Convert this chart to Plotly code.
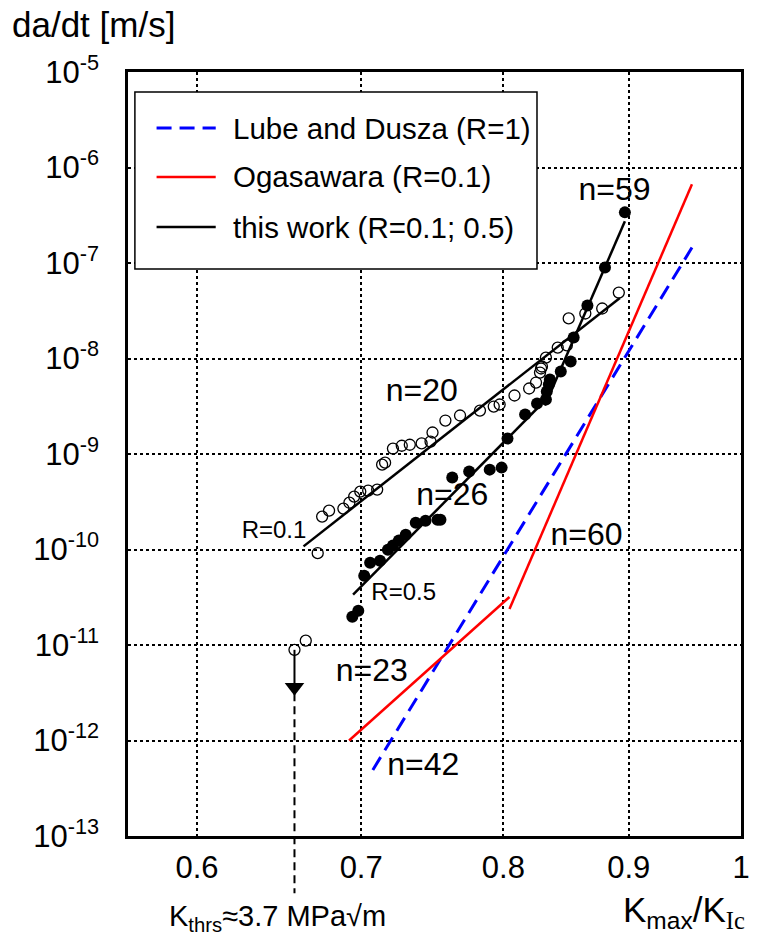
import plotly.graph_objects as go

# ---------------- data ----------------
# this work, R = 0.1 (open circles)
open_x = [0.6720, 0.6748, 0.6792, 0.6884, 0.6923, 0.6954, 0.6994, 0.7046, 0.7106,
          0.7139, 0.7159, 0.7212, 0.7272, 0.7327, 0.7409, 0.7471, 0.7485, 0.7576,
          0.7681, 0.7826, 0.7928, 0.7972, 0.8084, 0.8196, 0.8249, 0.8280, 0.8288,
          0.8295, 0.8326, 0.8419, 0.8491, 0.8506, 0.8640, 0.8778, 0.8916]
open_y = [9.15e-11, 2.21e-10, 2.55e-10, 2.68e-10, 3.09e-10, 3.58e-10, 4.04e-10, 4.14e-10, 4.24e-10,
          7.74e-10, 8.12e-10, 1.14e-9, 1.22e-9, 1.25e-9, 1.29e-9, 1.35e-9, 1.68e-9, 2.24e-9,
          2.53e-9, 2.85e-9, 3.14e-9, 3.30e-9, 4.10e-9, 4.85e-9, 5.60e-9, 7.13e-9, 7.86e-9,
          8.25e-9, 1.02e-8, 1.30e-8, 1.37e-8, 2.63e-8, 2.96e-8, 3.34e-8, 4.9e-8]

# this work, R = 0.5 (filled circles)
fill_x = [0.6942, 0.6981, 0.7020, 0.7059, 0.7125, 0.7178, 0.7212, 0.7252, 0.7299, 0.7368,
          0.7436, 0.7520, 0.7541, 0.7625, 0.7747, 0.7898, 0.7987, 0.8031, 0.8165, 0.8257,
          0.8326, 0.8333, 0.8349, 0.8357, 0.8443, 0.8522, 0.8546, 0.8657, 0.8801, 0.8967]
fill_y = [1.98e-11, 2.28e-11, 5.31e-11, 7.27e-11, 7.63e-11, 9.95e-11, 1.10e-10, 1.24e-10, 1.43e-10, 1.91e-10,
          2.00e-10, 2.05e-10, 2.05e-10, 5.66e-10, 6.54e-10, 6.86e-10, 7.20e-10, 1.45e-9, 2.59e-9, 3.38e-9,
          3.72e-9, 4.51e-9, 5.34e-9, 6.03e-9, 7.31e-9, 9.30e-9, 1.66e-8, 3.59e-8, 8.99e-8, 3.39e-7]

# threshold points (open) and arrow
thr_x = [0.6575, 0.6645]
thr_y = [8.9e-12, 1.11e-11]
k_thr = 0.6575
arrow_y = [8.9e-12, 3.6e-12]

# power-law fits of this work (n=20, n=26, n=59)
fit_x = [0.6631, 0.8925, None, 0.6947, 0.8280, None, 0.8318, 0.8967]
fit_y = [1.078e-10, 4.31e-8, None, 3.36e-11, 3.22e-9, None, 3.22e-9, 2.73e-7]

# Ogasawara (R=0.1): n=23 and n=60
oga_x = [0.6921, 0.8046, None, 0.8046, 0.9550]
oga_y = [1.0e-12, 3.18e-11, None, 2.38e-11, 6.67e-7]

# Lube and Dusza (R=1): n=42
lube_x = [0.7077, 0.9550]
lube_y = [4.92e-13, 1.45e-7]

# slope labels
n_text = ["n=59", "n=20", "n=26", "n=60", "n=23", "n=42"]
n_x = [0.8880, 0.7410, 0.7625, 0.8650, 0.7070, 0.7420]
n_y = [5.6e-7, 4.40e-9, 3.58e-10, 1.36e-10, 5.11e-12, 5.29e-13]
r_text = ["R=0.1", "R=0.5"]
r_x = [0.6450, 0.7285]
r_y = [1.54e-10, 3.44e-11]

legend_names = ["Lube and Dusza (R=1)", "Ogasawara (R=0.1)", "this work (R=0.1; 0.5)"]

x_ticks = [0.6, 0.7, 0.8, 0.9, 1.0]
x_ticktext = ["0.6", "0.7", "0.8", "0.9", "1"]
y_exps = [-13, -12, -11, -10, -9, -8, -7, -6, -5]

FONT = "Liberation Sans, Arial, sans-serif"
BLUE = "#0000ff"
RED = "#ff0000"
LUBE_DASH = "15px,8px"

fig = go.Figure()

fig.add_trace(go.Scatter(x=lube_x, y=lube_y, mode="lines", name=legend_names[0], showlegend=False,
                         line=dict(color=BLUE, width=3, dash=LUBE_DASH)))
fig.add_trace(go.Scatter(x=oga_x, y=oga_y, mode="lines", name=legend_names[1], showlegend=False,
                         line=dict(color=RED, width=2.5), connectgaps=False))
fig.add_trace(go.Scatter(x=open_x, y=open_y, mode="markers", showlegend=False, name="R=0.1",
                         marker=dict(symbol="circle-open", size=11, color="black",
                                     line=dict(width=1.3, color="black"))))
fig.add_trace(go.Scatter(x=thr_x, y=thr_y, mode="markers", showlegend=False, name="threshold",
                         marker=dict(symbol="circle-open", size=11, color="black",
                                     line=dict(width=1.3, color="black"))))
fig.add_trace(go.Scatter(x=fill_x, y=fill_y, mode="markers", showlegend=False, name="R=0.5",
                         marker=dict(symbol="circle", size=12, color="black")))
fig.add_trace(go.Scatter(x=fit_x, y=fit_y, mode="lines", name=legend_names[2], showlegend=False,
                         line=dict(color="black", width=2.5), connectgaps=False))
# threshold arrow
fig.add_trace(go.Scatter(x=[k_thr, k_thr], y=arrow_y, mode="lines", showlegend=False,
                         line=dict(color="black", width=2)))
fig.add_trace(go.Scatter(x=[k_thr], y=[arrow_y[1]], mode="markers", showlegend=False,
                         marker=dict(symbol="triangle-down", size=17, color="black")))
# labels
fig.add_trace(go.Scatter(x=n_x, y=n_y, mode="text", text=n_text, showlegend=False,
                         textposition="middle center", cliponaxis=False,
                         textfont=dict(family=FONT, size=32, color="black")))
fig.add_trace(go.Scatter(x=r_x, y=r_y, mode="text", text=r_text, showlegend=False,
                         textposition="middle center", cliponaxis=False,
                         textfont=dict(family=FONT, size=24, color="black")))

# dashed threshold line below the arrow, running out of the plot
fig.add_shape(type="line", xref="x", yref="paper", x0=k_thr, x1=k_thr,
              y0=0.187, y1=-0.075, line=dict(color="black", width=2, dash="8px,5px"))

# legend box drawn in the plot's domain coordinates
fig.add_shape(type="rect", xref="x domain", yref="y domain", x0=0.01125, x1=0.6672,
              y0=0.74215, y1=0.97382, fillcolor="white", line=dict(color="black", width=1.5),
              layer="above")
leg_rows = [0.9267, 0.86257, 0.79712]
leg_styles = [dict(color=BLUE, width=3, dash=LUBE_DASH), dict(color=RED, width=2.5),
              dict(color="black", width=2.5)]
for name, yy, st in zip(legend_names, leg_rows, leg_styles):
    fig.add_shape(type="line", xref="x domain", yref="y domain", x0=0.0466, x1=0.1431,
                  y0=yy, y1=yy, line=st, layer="above")
    fig.add_annotation(text=name, xref="x domain", yref="y domain", x=0.1688, y=yy,
                       xanchor="left", yanchor="middle", showarrow=False,
                       font=dict(family=FONT, size=29.5, color="black"))

fig.update_xaxes(type="log", range=[-0.25, 0], tickvals=x_ticks, ticktext=x_ticktext,
                 showline=True, mirror=True, linecolor="black", linewidth=2.5,
                 showgrid=True, gridcolor="black", griddash="dot", gridwidth=2,
                 ticks="", ticklabelstandoff=2,
                 tickfont=dict(family=FONT, size=31, color="black"))
fig.update_yaxes(type="log", range=[-13, -5], tickvals=[10.0 ** e for e in y_exps],
                 ticktext=["10<sup>%d</sup>" % e for e in y_exps],
                 showline=True, mirror=True, linecolor="black", linewidth=2.5,
                 showgrid=True, gridcolor="black", griddash="dot", gridwidth=2,
                 ticks="", ticklabelstandoff=20,
                 tickfont=dict(family=FONT, size=31, color="black"))

fig.add_annotation(text="da/dt [m/s]", xref="paper", yref="paper", x=-0.1930, y=1.0,
                   xanchor="left", yanchor="bottom", yshift=26, showarrow=False,
                   font=dict(family=FONT, size=35, color="black"))
fig.add_annotation(text="K<sub>max</sub>/K<sub><span style=\"font-family:Liberation Serif\">Ic</span></sub>",
                   xref="paper", yref="paper", x=1.0, y=-0.099, xanchor="right", yanchor="middle",
                   xshift=5, showarrow=False, borderpad=0,
                   font=dict(family=FONT, size=35, color="black"))
fig.add_annotation(text="K<sub>thrs</sub>≈3.7 MPa√m", xref="paper", yref="paper",
                   x=0.2445, y=-0.107, xanchor="center", yanchor="middle", showarrow=False,
                   borderpad=0, font=dict(family=FONT, size=29, color="black"))

fig.update_layout(
    width=758, height=940,
    margin=dict(l=128, r=8, t=72, b=104),
    paper_bgcolor="white", plot_bgcolor="white",
    font=dict(family=FONT, color="black"),
    showlegend=False,
)

fig.write_html("out.html")
